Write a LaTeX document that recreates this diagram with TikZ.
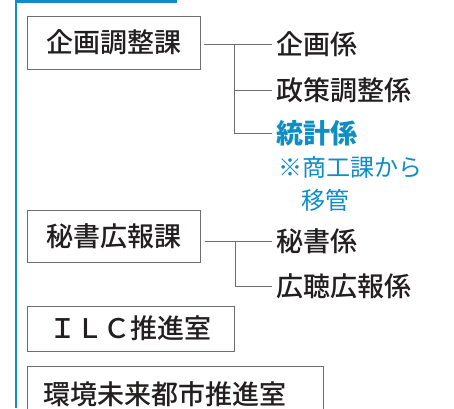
\documentclass[tikz,border=0pt]{standalone}
\usepackage{fontspec}
\usepackage{tikz}
\usetikzlibrary{calc}
\usepackage{xcolor}
\newfontfamily\jp{Noto Sans CJK JP Medium}
\newfontfamily\jpr{Noto Sans CJK JP}
\definecolor{OrgBlue}{HTML}{0E8EC4}
\definecolor{OrgText}{HTML}{231F20}
\definecolor{OrgLine}{HTML}{6D6E71}

\tikzset{
  kabox/.style={draw=OrgLine,line width=1pt,minimum height=52pt,inner sep=0pt,
    text=OrgText,font=\jp\fontsize{27}{30}\selectfont},
  kakari/.style={anchor=west,inner xsep=4pt,inner ysep=0pt,text=OrgText,
    font=\jp\fontsize{27}{30}\selectfont},
  note/.style={anchor=west,inner sep=0pt,text=OrgBlue,
    font=\jpr\fontsize{24}{27}\selectfont},
  conn/.style={draw=OrgLine,line width=0.8pt}
}

\begin{document}
\begin{tikzpicture}[x=1pt,y=-1pt]
    \clip (0,0) rectangle (454,408);
    \fill[white] (0,0) rectangle (454,408);
    \fill[OrgBlue] (15,0) rectangle (17,408);
    \fill[OrgBlue] (15,0) rectangle (177,3);
    \node[kabox,minimum width=173pt,minimum height=53pt] (kikakuka) at (113.5,42.5) {企画調整課};
    \node[kabox,minimum width=173pt] (hishoka) at (113.5,236) {秘書広報課};
    \node[kabox,minimum width=207pt,minimum height=45pt] (ilc) at (130.5,328.5) {ＩＬＣ推進室};
    \node[kabox,inner xsep=16pt,text width=264pt,align=left,minimum height=56pt,anchor=north west] (kankyo) at (27,366) {環境未来都市推進室};
    \foreach \y/\name/\txt in {44/kikaku/企画係,90/seisaku/政策調整係,241/hisho/秘書係,286/kocho/広聴広報係} {
     \node[kakari] (\name) at (272,\y) {\txt};
    }
    \node[kakari,text=OrgBlue,font=\jpr\bfseries\fontsize{27}{30}\selectfont] (toukei) at (272,133) {統計係};
    \node[note] (note1) at (278,167) {※商工課から};
    \node[note] (note2) at (301,200) {移管};
    \coordinate (j1) at (234,44);
    \coordinate (j2) at (235,241);
    \draw[conn] ([xshift=3pt]kikakuka.east |- kikaku.west) -- (kikaku.west);
    \draw[conn] (j1) |- (seisaku.west);
    \draw[conn] (j1) |- (toukei.west);
    \draw[conn] ([xshift=4pt]hishoka.east |- hisho.west) -- (hisho.west);
    \draw[conn] (j2) |- (kocho.west);
\end{tikzpicture}
\end{document}
